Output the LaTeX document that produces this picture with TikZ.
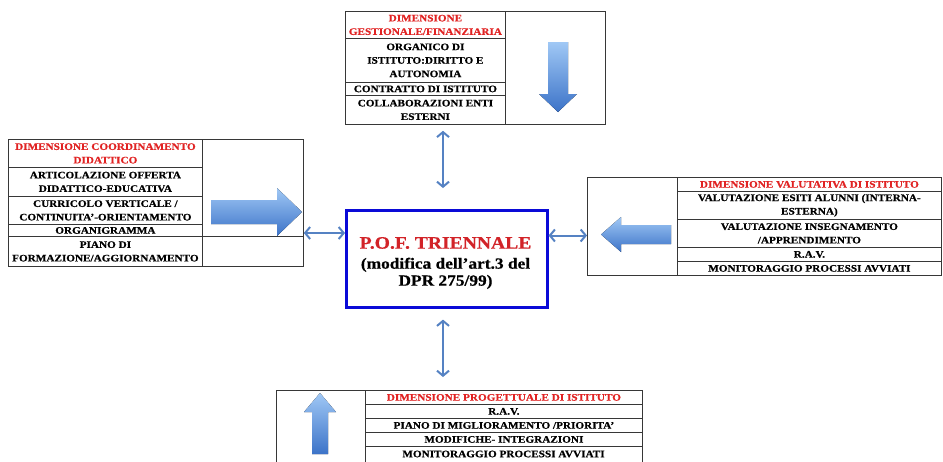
\documentclass[tikz,border=0pt]{standalone}
\usepackage{fontspec}
\setmainfont{Liberation Serif}[FakeStretch=1.12, BoldFeatures={FakeBold=0.6}]
\usetikzlibrary{arrows.meta}
\definecolor{hdrred}{RGB}{225,35,35}
\definecolor{titred}{RGB}{210,35,40}
\definecolor{pofblue}{RGB}{10,10,215}
\definecolor{arrblue}{RGB}{85,130,195}
\definecolor{blklight}{RGB}{160,200,245}
\definecolor{blkdark}{RGB}{60,115,200}
\definecolor{gridc}{RGB}{55,55,55}
\begin{document}
\begin{tikzpicture}[x=1pt,y=-1pt,
  cell/.style={draw=gridc, line width=0.8pt, inner sep=0pt, anchor=north west, align=center,
               font=\fontsize{10}{13.5}\selectfont\bfseries},
  hdr/.style={cell, text=hdrred},
  blk/.style={top color=blklight, bottom color=blkdark, draw=none},
  dbl/.style={arrblue, line width=2pt,
              {Straight Barb[length=5pt,width=12pt]}-{Straight Barb[length=5pt,width=12pt]}},
]
\useasboundingbox (0,0) rectangle (943,461);
\clip (0,0) rectangle (943,461);
\fill[white] (0,0) rectangle (943,461);

% ---------- top table ----------
\node[hdr,  minimum width=160pt, minimum height=27pt] (t1) at (345,11) {DIMENSIONE\\GESTIONALE/FINANZIARIA};
\node[cell, minimum width=160pt, minimum height=44pt] (t2) at (345,38) {ORGANICO DI\\ISTITUTO:DIRITTO E\\AUTONOMIA};
\node[cell, minimum width=160pt, minimum height=13pt] (t3) at (345,82) {CONTRATTO DI ISTITUTO};
\node[cell, minimum width=160pt, minimum height=29pt] (t4) at (345,95) {COLLABORAZIONI ENTI\\ESTERNI};
\node[cell, minimum width=100pt, minimum height=113pt] (tr) at (505,11) {};
\fill[blk] (548,42) -- (568,42) -- (568,94) -- (577,94) -- (558,112) -- (539,94) -- (548,94) -- cycle;

% ---------- left table ----------
\node[hdr,  minimum width=194pt, minimum height=28pt] (l1) at (8,139) {DIMENSIONE COORDINAMENTO\\DIDATTICO};
\node[cell, minimum width=194pt, minimum height=29pt] (l2) at (8,167) {ARTICOLAZIONE OFFERTA\\DIDATTICO-EDUCATIVA};
\node[cell, minimum width=194pt, minimum height=28pt] (l3) at (8,196) {CURRICOLO VERTICALE /\\CONTINUITA'-ORIENTAMENTO};
\node[cell, minimum width=194pt, minimum height=12pt] (l4) at (8,224) {ORGANIGRAMMA};
\node[cell, minimum width=194pt, minimum height=30pt] (l5) at (8,236) {PIANO DI\\FORMAZIONE/AGGIORNAMENTO};
\node[cell, minimum width=101pt, minimum height=97pt] (lr1) at (202,139) {};
\node[cell, minimum width=101pt, minimum height=30pt] (lr2) at (202,236) {};
\fill[blk] (211,200) -- (277,200) -- (277,188) -- (302,212) -- (277,236) -- (277,224) -- (211,224) -- cycle;

% ---------- right table ----------
\node[cell, minimum width=90pt, minimum height=98pt] (rl) at (587,177) {};
\node[hdr,  minimum width=264pt, minimum height=14pt] (r1) at (677,177) {DIMENSIONE VALUTATIVA DI ISTITUTO};
\node[cell, minimum width=264pt, minimum height=28pt] (r2) at (677,191) {VALUTAZIONE ESITI ALUNNI (INTERNA-\\ESTERNA)};
\node[cell, minimum width=264pt, minimum height=28pt] (r3) at (677,219) {VALUTAZIONE INSEGNAMENTO\\/APPRENDIMENTO};
\node[cell, minimum width=264pt, minimum height=14pt] (r4) at (677,247) {R.A.V.};
\node[cell, minimum width=264pt, minimum height=14pt] (r5) at (677,261) {MONITORAGGIO PROCESSI AVVIATI};
\fill[blk] (601,234.5) -- (621,217) -- (621,225) -- (671,225) -- (671,244) -- (621,244) -- (621,252) -- cycle;

% ---------- bottom table ----------
\node[cell, minimum width=89pt, minimum height=76pt] (bl) at (276,390) {};
\node[hdr,  minimum width=277pt, minimum height=14pt] (b1) at (365,390) {DIMENSIONE PROGETTUALE DI ISTITUTO};
\node[cell, minimum width=277pt, minimum height=14pt] (b2) at (365,404) {R.A.V.};
\node[cell, minimum width=277pt, minimum height=14pt] (b3) at (365,418) {PIANO DI MIGLIORAMENTO /PRIORITA'};
\node[cell, minimum width=277pt, minimum height=14pt] (b4) at (365,432) {MODIFICHE- INTEGRAZIONI};
\node[cell, minimum width=277pt, minimum height=34pt] (b5) at (365,446) {};
\node[font=\fontsize{10}{13.5}\selectfont\bfseries, inner sep=0pt] (b5t) at (503.5,454) {MONITORAGGIO PROCESSI AVVIATI};
\fill[blk] (320,393) -- (336,412) -- (328,412) -- (328,454) -- (312,454) -- (312,412) -- (304,412) -- cycle;

% ---------- centre ----------
\node[draw=pofblue, line width=2.6pt, minimum width=201pt, minimum height=97pt, anchor=north west, inner sep=0pt] (pof) at (345,209) {};
\node[align=center, inner sep=0pt, font=\fontsize{15.5}{17}\selectfont\bfseries] (poft) at (445.5,263)
  {\textcolor{titred}{\fontsize{17.5}{20}\selectfont P.O.F. TRIENNALE}\\[3pt]
   (modifica dell'art.3 del\\
   DPR 275/99)};

% ---------- connectors ----------
\draw[dbl] (lr1.east |- 0,233) -- (pof.west |- 0,233);
\draw[dbl] (pof.east |- 0,235.5) -- (rl.west |- 0,235.5);
\draw[dbl, shorten <=6pt, shorten >=21pt] (t4.south -| 443,0) -- (pof.north -| 443,0);
\draw[dbl, shorten <=11pt, shorten >=13pt] (pof.south -| 443,0) -- (bl.north -| 443,0);
\end{tikzpicture}
\end{document}
